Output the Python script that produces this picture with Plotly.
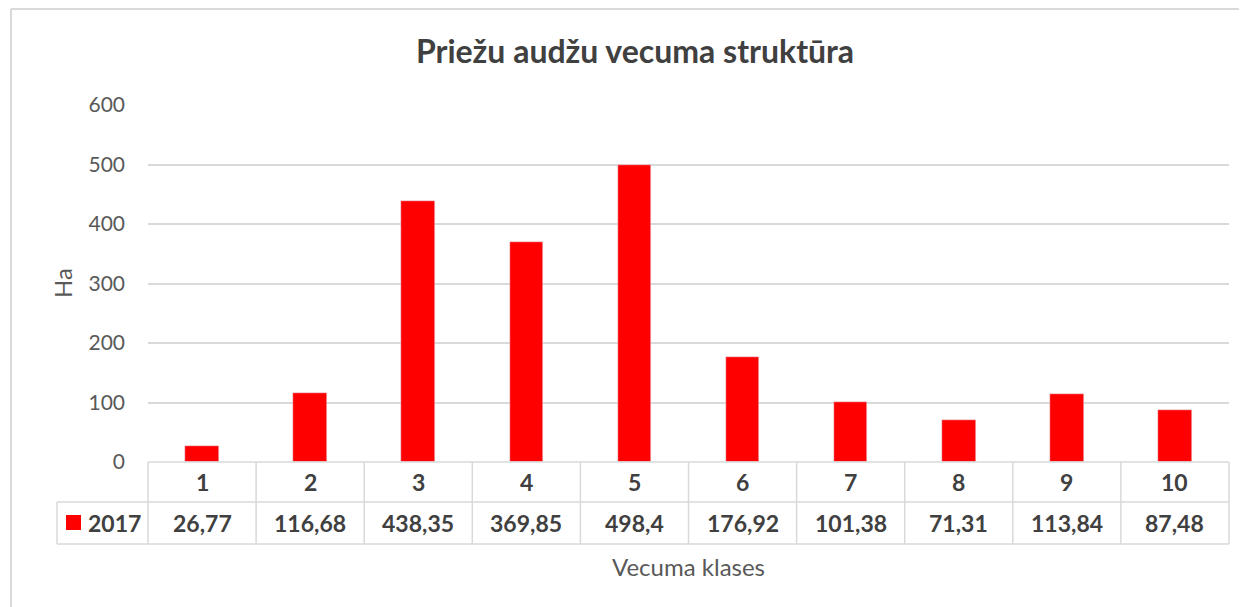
import plotly.graph_objects as go

categories = [1, 2, 3, 4, 5, 6, 7, 8, 9, 10]
values_2017 = [26.77, 116.68, 438.35, 369.85, 498.4, 176.92, 101.38, 71.31, 113.84, 87.48]
series_name = "2017"
y_ticks = [0, 100, 200, 300, 400, 500, 600]
title_text = "Priežu audžu vecuma struktūra"
x_title = "Vecuma klases"
y_title = "Ha"

OFF = 8  # default page body margin
W, H = 1247 - OFF, 607 - OFF
L, R, T, B = 148 - OFF, 1229 - OFF, 105 - OFF, 462 - OFF
PW, PH = R - L, B - T

def px(x):
    return (x - OFF - L) / PW

def py(y):
    return (B - (y - OFF)) / PH

FONT = "Lato"
GRID = "#d9d9d9"
TXT = "#404040"
BAR = "#ff0000"

fig = go.Figure()
fig.add_trace(go.Bar(x=categories, y=values_2017, name=series_name,
                     marker_color=BAR, width=0.31, showlegend=False))

shapes = []
def line(x0, y0, x1, y1, color=GRID, w=1.5):
    shapes.append(dict(type="line", xref="paper", yref="paper",
                       x0=x0, y0=y0, x1=x1, y1=y1,
                       line=dict(color=color, width=w)))

# table horizontal lines
line(0, py(462), 1, py(462))
line(px(57), py(502), 1, py(502))
line(px(57), py(544), 1, py(544))
# table vertical lines
n = len(categories)
for k in range(n + 1):
    line(k / n, py(462), k / n, py(544))
line(px(57), py(502), px(57), py(544))
# chart outer border
line(px(11), py(9), px(11), py(620), w=2)
line(px(11), py(9), px(1260), py(9), w=2)
# legend key
shapes.append(dict(type="rect", xref="paper", yref="paper",
                   x0=px(66), x1=px(81), y0=py(530), y1=py(515),
                   fillcolor=BAR, line=dict(width=0)))

annotations = []
for c, v in zip(categories, values_2017):
    annotations.append(dict(x=c, y=py(482), xref="x", yref="paper",
                            xanchor="center", yanchor="middle",
                            text=f"<b>{c}</b>", showarrow=False,
                            font=dict(family=FONT, size=23, color=TXT)))
    annotations.append(dict(x=c, y=py(523), xref="x", yref="paper",
                            xanchor="center", yanchor="middle",
                            text="<b>" + f"{v:g}".replace(".", ",") + "</b>",
                            showarrow=False,
                            font=dict(family=FONT, size=23, color=TXT)))
annotations.append(dict(x=px(86), y=py(523), xref="paper", yref="paper",
                        xanchor="left", yanchor="middle", text=f"<b>{series_name}</b>",
                        showarrow=False, font=dict(family=FONT, size=23, color=TXT)))
annotations.append(dict(x=px(688), y=py(566), xref="paper", yref="paper",
                        xanchor="center", yanchor="middle",
                        text=x_title, showarrow=False,
                        font=dict(family=FONT, size=24, color="#595959")))
annotations.append(dict(x=px(62), y=py(283), xref="paper", yref="paper",
                        xanchor="center", yanchor="middle",
                        text=y_title, textangle=-90, showarrow=False,
                        font=dict(family=FONT, size=24, color="#595959")))

fig.update_layout(
    width=W, height=H,
    margin=dict(l=L, r=W - R, t=T, b=H - B, pad=0),
    paper_bgcolor="white", plot_bgcolor="white",
    title=dict(text=f"<b>{title_text}</b>", x=(635 - OFF) / W, xanchor="center",
               y=1 - (52 - OFF) / H, yanchor="middle", xref="container", yref="container",
               font=dict(family=FONT, size=32, color=TXT)),
    xaxis=dict(range=[0.5, 10.5], showticklabels=False, showgrid=False,
               zeroline=False, showline=False, ticks=""),
    yaxis=dict(range=[0, 600], tickvals=y_ticks, showgrid=True, gridcolor=GRID,
               gridwidth=1.5, zeroline=False, showline=False, ticks="",
               ticklabelstandoff=22,
               tickfont=dict(family=FONT, size=21, color="#595959")),
    shapes=shapes, annotations=annotations, bargap=0,
)

fig.write_html("out.html")
